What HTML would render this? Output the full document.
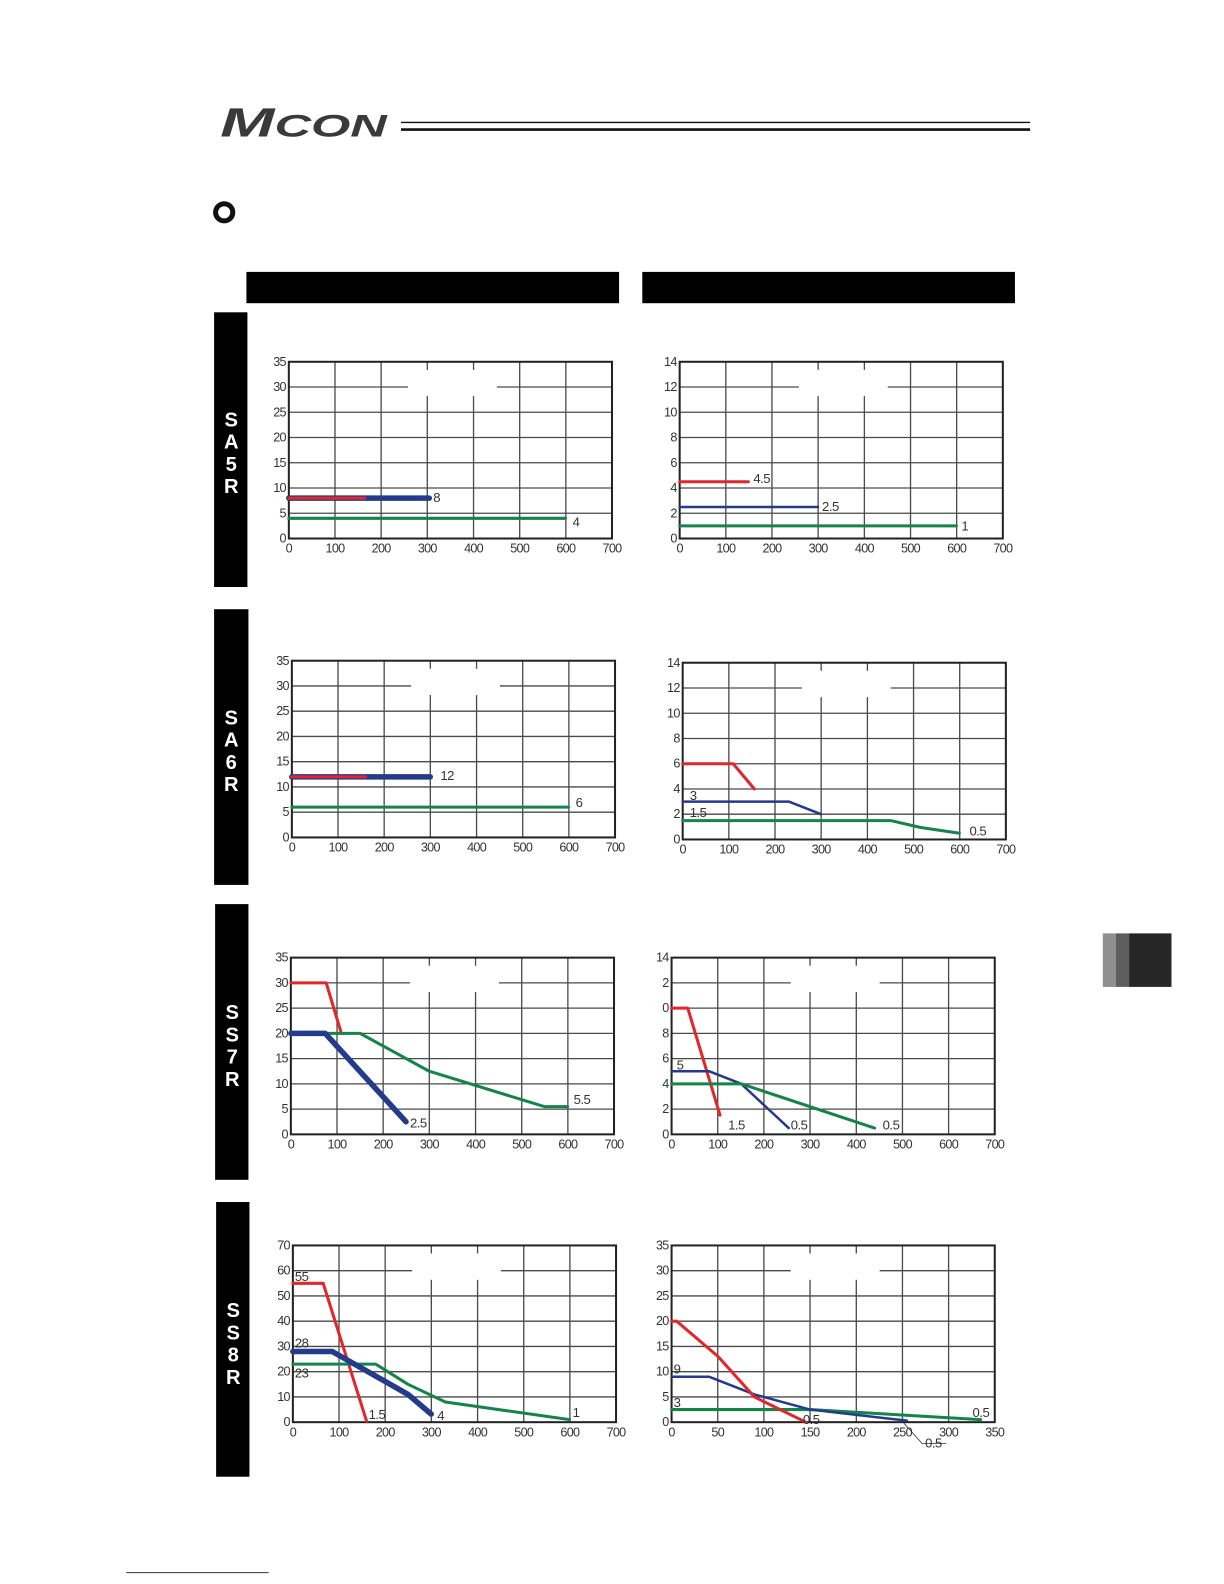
<!DOCTYPE html>
<html><head><meta charset="utf-8"><style>
html,body{margin:0;padding:0;background:#fff;width:1224px;height:1584px;overflow:hidden}
svg{display:block}
text{font-family:"Liberation Sans",sans-serif}
.t{font-size:12.5px;fill:#333;letter-spacing:-0.7px}
.yl{text-anchor:end}
.xl{text-anchor:middle}
.g{fill:none;stroke:#4a4a4a;stroke-width:1.3}
.b{fill:none;stroke:#222;stroke-width:2}
.s{fill:none;stroke-linejoin:round;stroke-linecap:round}
.r{stroke:#e3262a;stroke-width:3}
.bl{stroke:#243b8c;stroke-width:2.5}
.bt{stroke:#243b8c;stroke-width:5.5}
.gr{stroke:#14844a;stroke-width:3}
.lab{font-size:13px;fill:#333;letter-spacing:-0.5px}
.side{font-size:20px;font-weight:bold;fill:#fff;text-anchor:middle}
</style></head><body>
<svg width="1224" height="1584" viewBox="0 0 1212 1568" xmlns="http://www.w3.org/2000/svg">
<defs>
<g id="grid">
<path class="g" d="M45.7 0V175M91.4 0V175M137.1 0V175M182.9 0V175M228.6 0V175M274.3 0V175M0 25H320M0 50H320M0 75H320M0 100H320M0 125H320M0 150H320"/>
<rect x="118" y="8" width="88" height="26" fill="#fff"/>
<rect class="b" x="0" y="0" width="320" height="175"/>
</g>
</defs>

<!-- header -->
<text x="218" y="135" textLength="165" lengthAdjust="spacingAndGlyphs" style="font-size:40px;font-style:italic;font-weight:bold;fill:#3a3a3a">M<tspan style="font-size:31px">CON</tspan></text>
<path d="M397 121H1020" stroke="#111" stroke-width="1.3"/>
<path d="M397 128H1020" stroke="#111" stroke-width="2.6"/>
<circle cx="222" cy="210" r="8.5" fill="none" stroke="#111" stroke-width="5"/>
<rect x="244" y="269" width="369" height="31" fill="#000"/>
<rect x="636" y="269" width="369" height="31" fill="#000"/>

<!-- side bars -->
<rect x="212" y="309" width="33" height="272" fill="#000"/>
<text class="side" x="229" y="422">S</text><text class="side" x="229" y="444">A</text><text class="side" x="229" y="466">5</text><text class="side" x="229" y="488">R</text>
<rect x="212" y="603" width="34" height="273" fill="#000"/>
<text class="side" x="229" y="717">S</text><text class="side" x="229" y="739">A</text><text class="side" x="229" y="761">6</text><text class="side" x="229" y="783">R</text>
<rect x="213" y="895" width="33" height="273" fill="#000"/>
<text class="side" x="230" y="1009">S</text><text class="side" x="230" y="1031">S</text><text class="side" x="230" y="1053">7</text><text class="side" x="230" y="1075">R</text>
<rect x="214" y="1190" width="33" height="272" fill="#000"/>
<text class="side" x="231" y="1304">S</text><text class="side" x="231" y="1326">S</text><text class="side" x="231" y="1348">8</text><text class="side" x="231" y="1370">R</text>

<!-- right tab -->
<rect x="1092" y="924" width="13" height="53" fill="#8f8f8f"/>
<rect x="1105" y="924" width="13" height="53" fill="#5e5e5e"/>
<rect x="1118" y="924" width="42" height="53" fill="#262626"/>
<path d="M125 1557H266" stroke="#334" stroke-width="1"/>

<!-- Chart 1 SA5R left -->
<g transform="translate(286,358)">
<use href="#grid"/>
<g class="t yl"><text x="-3" y="179">0</text><text x="-3" y="154">5</text><text x="-3" y="129">10</text><text x="-3" y="104">15</text><text x="-3" y="79">20</text><text x="-3" y="54">25</text><text x="-3" y="29">30</text><text x="-3" y="4">35</text></g>
<g class="t xl"><text x="0" y="189">0</text><text x="45.7" y="189">100</text><text x="91.4" y="189">200</text><text x="137.1" y="189">300</text><text x="182.9" y="189">400</text><text x="228.6" y="189">500</text><text x="274.3" y="189">600</text><text x="320" y="189">700</text></g>
<path class="s bt" d="M0 135H139"/>
<path class="s r" d="M0 135H75" stroke-width="2.5"/>
<path class="s gr" d="M0 155H274"/>
<text class="lab" x="143" y="139">8</text><text class="lab" x="281" y="163">4</text>
</g>

<!-- Chart 2 SA5R right -->
<g transform="translate(673,358)">
<use href="#grid"/>
<g class="t yl"><text x="-3" y="179">0</text><text x="-3" y="154">2</text><text x="-3" y="129">4</text><text x="-3" y="104">6</text><text x="-3" y="79">8</text><text x="-3" y="54">10</text><text x="-3" y="29">12</text><text x="-3" y="4">14</text></g>
<g class="t xl"><text x="0" y="189">0</text><text x="45.7" y="189">100</text><text x="91.4" y="189">200</text><text x="137.1" y="189">300</text><text x="182.9" y="189">400</text><text x="228.6" y="189">500</text><text x="274.3" y="189">600</text><text x="320" y="189">700</text></g>
<path class="s r" d="M0 118.8H68"/>
<path class="s bl" d="M0 143.8H137"/>
<path class="s gr" d="M0 162.5H274"/>
<text class="lab" x="73" y="120">4.5</text><text class="lab" x="141" y="148">2.5</text><text class="lab" x="279" y="167">1</text>
</g>

<!-- Chart 3 SA6R left -->
<g transform="translate(289,654)">
<use href="#grid"/>
<g class="t yl"><text x="-3" y="179">0</text><text x="-3" y="154">5</text><text x="-3" y="129">10</text><text x="-3" y="104">15</text><text x="-3" y="79">20</text><text x="-3" y="54">25</text><text x="-3" y="29">30</text><text x="-3" y="4">35</text></g>
<g class="t xl"><text x="0" y="189">0</text><text x="45.7" y="189">100</text><text x="91.4" y="189">200</text><text x="137.1" y="189">300</text><text x="182.9" y="189">400</text><text x="228.6" y="189">500</text><text x="274.3" y="189">600</text><text x="320" y="189">700</text></g>
<path class="s bt" d="M0 115H137"/>
<path class="s r" d="M0 115H73" stroke-width="2.5"/>
<path class="s gr" d="M0 145H274"/>
<text class="lab" x="147" y="118">12</text><text class="lab" x="281" y="145">6</text>
</g>

<!-- Chart 4 SA6R right -->
<g transform="translate(676,656)">
<use href="#grid"/>
<g class="t yl"><text x="-3" y="179">0</text><text x="-3" y="154">2</text><text x="-3" y="129">4</text><text x="-3" y="104">6</text><text x="-3" y="79">8</text><text x="-3" y="54">10</text><text x="-3" y="29">12</text><text x="-3" y="4">14</text></g>
<g class="t xl"><text x="0" y="189">0</text><text x="45.7" y="189">100</text><text x="91.4" y="189">200</text><text x="137.1" y="189">300</text><text x="182.9" y="189">400</text><text x="228.6" y="189">500</text><text x="274.3" y="189">600</text><text x="320" y="189">700</text></g>
<path class="s r" d="M0 100H50L71 125"/>
<path class="s bl" d="M0 137.5H105L137 150"/>
<path class="s gr" d="M0 156.3H206L235 163L274 168.8"/>
<text class="lab" x="7" y="136">3</text><text class="lab" x="7" y="153">1.5</text><text class="lab" x="284" y="171">0.5</text>
</g>

<!-- Chart 5 SS7R left -->
<g transform="translate(288,948)">
<use href="#grid"/>
<g class="t yl"><text x="-3" y="179">0</text><text x="-3" y="154">5</text><text x="-3" y="129">10</text><text x="-3" y="104">15</text><text x="-3" y="79">20</text><text x="-3" y="54">25</text><text x="-3" y="29">30</text><text x="-3" y="4">35</text></g>
<g class="t xl"><text x="0" y="189">0</text><text x="45.7" y="189">100</text><text x="91.4" y="189">200</text><text x="137.1" y="189">300</text><text x="182.9" y="189">400</text><text x="228.6" y="189">500</text><text x="274.3" y="189">600</text><text x="320" y="189">700</text></g>
<path class="s r" d="M0 25H35L50 75"/>
<path class="s gr" d="M0 75H68.6L137 112.5L251 147.5H274"/>
<path class="s bt" d="M0 75H34L114 162.5"/>
<text class="lab" x="118" y="168">2.5</text><text class="lab" x="280" y="145">5.5</text>
</g>

<!-- Chart 6 SS7R right -->
<g transform="translate(665,948)">
<use href="#grid"/>
<g class="t yl"><text x="-3" y="179">0</text><text x="-3" y="154">2</text><text x="-3" y="129">4</text><text x="-3" y="104">6</text><text x="-3" y="79">8</text><text x="-3" y="54">0</text><text x="-3" y="29">2</text><text x="-3" y="4">14</text></g>
<g class="t xl"><text x="0" y="189">0</text><text x="45.7" y="189">100</text><text x="91.4" y="189">200</text><text x="137.1" y="189">300</text><text x="182.9" y="189">400</text><text x="228.6" y="189">500</text><text x="274.3" y="189">600</text><text x="320" y="189">700</text></g>
<path class="s r" d="M0 50H16L48 156"/>
<path class="s bl" d="M0 112.5H37L69 125L116 168.8"/>
<path class="s gr" d="M0 125H69L201 168.8"/>
<text class="lab" x="5" y="111">5</text><text class="lab" x="56" y="170">1.5</text><text class="lab" x="118" y="170">0.5</text><text class="lab" x="209" y="170">0.5</text>
</g>

<!-- Chart 7 SS8R left -->
<g transform="translate(290,1233)">
<use href="#grid"/>
<g class="t yl"><text x="-3" y="179">0</text><text x="-3" y="154">10</text><text x="-3" y="129">20</text><text x="-3" y="104">30</text><text x="-3" y="79">40</text><text x="-3" y="54">50</text><text x="-3" y="29">60</text><text x="-3" y="4">70</text></g>
<g class="t xl"><text x="0" y="189">0</text><text x="45.7" y="189">100</text><text x="91.4" y="189">200</text><text x="137.1" y="189">300</text><text x="182.9" y="189">400</text><text x="228.6" y="189">500</text><text x="274.3" y="189">600</text><text x="320" y="189">700</text></g>
<path class="s r" d="M0 37.5H30L73 174" stroke-width="2.2"/>
<path class="s gr" d="M0 117.5H82L114 137.5L151 155L274 172.5"/>
<path class="s bt" d="M0 105H39L114 147.5L137 167"/>
<text class="lab" x="2" y="35">55</text><text class="lab" x="2" y="101">28</text><text class="lab" x="2" y="131">23</text>
<text class="lab" x="75" y="172">1.5</text><text class="lab" x="143" y="173">4</text><text class="lab" x="277" y="170">1</text>
</g>

<!-- Chart 8 SS8R right -->
<g transform="translate(665,1233)">
<use href="#grid"/>
<g class="t yl"><text x="-3" y="179">0</text><text x="-3" y="154">5</text><text x="-3" y="129">10</text><text x="-3" y="104">15</text><text x="-3" y="79">20</text><text x="-3" y="54">25</text><text x="-3" y="29">30</text><text x="-3" y="4">35</text></g>
<g class="t xl"><text x="0" y="189">0</text><text x="45.7" y="189">50</text><text x="91.4" y="189">100</text><text x="137.1" y="189">150</text><text x="182.9" y="189">200</text><text x="228.6" y="189">250</text><text x="274.3" y="189">300</text><text x="320" y="189">350</text></g>
<path class="s gr" d="M0 162.5H137L306 172.5"/>
<path class="s bl" d="M0 130H37L82 147.5L137 162.5L233 173.5"/>
<path class="s r" d="M0 75H5L46 110L82 150L133 175"/>
<text class="lab" x="2" y="127">9</text><text class="lab" x="2" y="160">3</text>
<text class="lab" x="130" y="177">0.5</text><text class="lab" x="298" y="170">0.5</text>
<path d="M230 176L248 196H272" stroke="#333" stroke-width="0.8" fill="none"/>
<text class="lab" x="251" y="200">0.5</text>
</g>
</svg>
</body></html>
